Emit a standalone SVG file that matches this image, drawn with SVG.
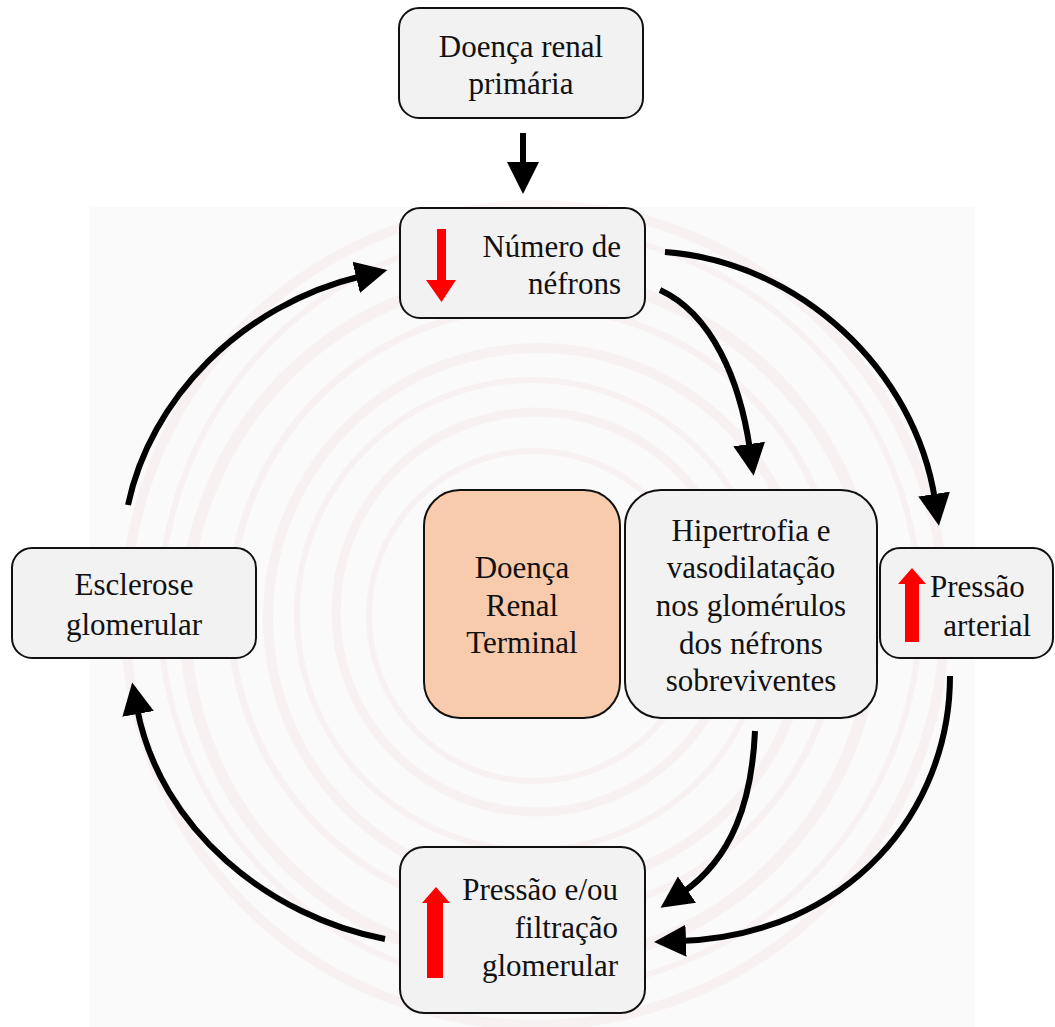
<svg xmlns="http://www.w3.org/2000/svg" width="1055" height="1027" viewBox="0 0 1055 1027">
<defs>
<style>
.box{fill:#f2f2f2;stroke:#111;stroke-width:2}
.term{fill:#f8cbad;stroke:#111;stroke-width:2}
.t{font-family:"Liberation Serif","Times New Roman",serif;font-size:31px;fill:#111}
.c{text-anchor:middle}
.r{text-anchor:end}
.conn{fill:none;stroke:#000;stroke-width:6}
.sw{fill:none;stroke:#f3c9c9;stroke-opacity:0.16}
.red{fill:#ff0000}
</style>
<marker id="ah" markerUnits="userSpaceOnUse" markerWidth="34" markerHeight="34" viewBox="0 0 34 34" refX="6" refY="17" orient="auto">
<path d="M0,1 L32,17 L0,33 Z" fill="#000"/>
</marker>
</defs>
<rect x="0" y="0" width="1055" height="1027" fill="#fff"/>
<rect x="90" y="207" width="885" height="820" fill="#fafafa"/>
<g id="swirl">
<circle class="sw" cx="535" cy="615" r="410" stroke-width="10"/>
<circle class="sw" cx="540" cy="610" r="380" stroke-width="6"/>
<circle class="sw" cx="530" cy="620" r="345" stroke-width="12"/>
<circle class="sw" cx="535" cy="612" r="305" stroke-width="7"/>
<circle class="sw" cx="538" cy="618" r="270" stroke-width="10"/>
<circle class="sw" cx="532" cy="615" r="235" stroke-width="6"/>
<circle class="sw" cx="536" cy="612" r="200" stroke-width="9"/>
<circle class="sw" cx="534" cy="616" r="165" stroke-width="6"/>
</g>
<g id="connectors">
<path class="conn" d="M523,133 L523,168" marker-end="url(#ah)"/>
<path class="conn" d="M665,252 C800,262 915,370 935,500" marker-end="url(#ah)"/>
<path class="conn" d="M660,290 C712,314 740,380 750,450" marker-end="url(#ah)"/>
<path class="conn" d="M950,676 C950,810 850,935 680,941" marker-end="url(#ah)"/>
<path class="conn" d="M755,731 C752,800 733,858 682,893" marker-end="url(#ah)"/>
<path class="conn" d="M385,939 C270,917 160,830 137,708" marker-end="url(#ah)"/>
<path class="conn" d="M128,505 C150,400 240,305 362,276" marker-end="url(#ah)"/>
</g>
<g id="node-primaria">
<rect class="box" x="399" y="8" width="244" height="110" rx="20"/>
<text class="t c" x="521" y="57">Doença renal</text>
<text class="t c" x="521" y="94">primária</text>
</g>
<g id="node-nefrons">
<rect class="box" x="400" y="208" width="245" height="110" rx="20"/>
<path class="red" d="M437,229 H446 V280 H456 L441.5,302 L426,280 H437 Z"/>
<text class="t r" x="621" y="257">Número de</text>
<text class="t r" x="621" y="294">néfrons</text>
</g>
<g id="node-terminal">
<rect class="term" x="424" y="490" width="196" height="228" rx="36"/>
<text class="t c" x="522" y="578">Doença</text>
<text class="t c" x="522" y="616">Renal</text>
<text class="t c" x="522" y="653">Terminal</text>
</g>
<g id="node-hipertrofia">
<rect class="box" x="625" y="490" width="252" height="228" rx="36"/>
<text class="t c" x="751" y="541">Hipertrofia e</text>
<text class="t c" x="751" y="578">vasodilatação</text>
<text class="t c" x="751" y="616">nos glomérulos</text>
<text class="t c" x="751" y="654">dos néfrons</text>
<text class="t c" x="751" y="691">sobreviventes</text>
</g>
<g id="node-arterial">
<rect class="box" x="880" y="548" width="173" height="110" rx="20"/>
<path class="red" d="M905,642 V584 H898 L912,568 L926,584 H919 V642 Z"/>
<text class="t" x="930" y="597">Pressão</text>
<text class="t r" x="1031" y="636">arterial</text>
</g>
<g id="node-esclerose">
<rect class="box" x="12" y="548" width="244" height="110" rx="20"/>
<text class="t c" x="134" y="595">Esclerose</text>
<text class="t c" x="134" y="635">glomerular</text>
</g>
<g id="node-filtracao">
<rect class="box" x="400" y="847" width="245" height="166" rx="24"/>
<path class="red" d="M427,978 V903 H422 L436,887 L450,903 H443 V978 Z"/>
<text class="t r" x="618" y="900">Pressão e/ou</text>
<text class="t r" x="618" y="938">filtração</text>
<text class="t r" x="618" y="976">glomerular</text>
</g>
</svg>
